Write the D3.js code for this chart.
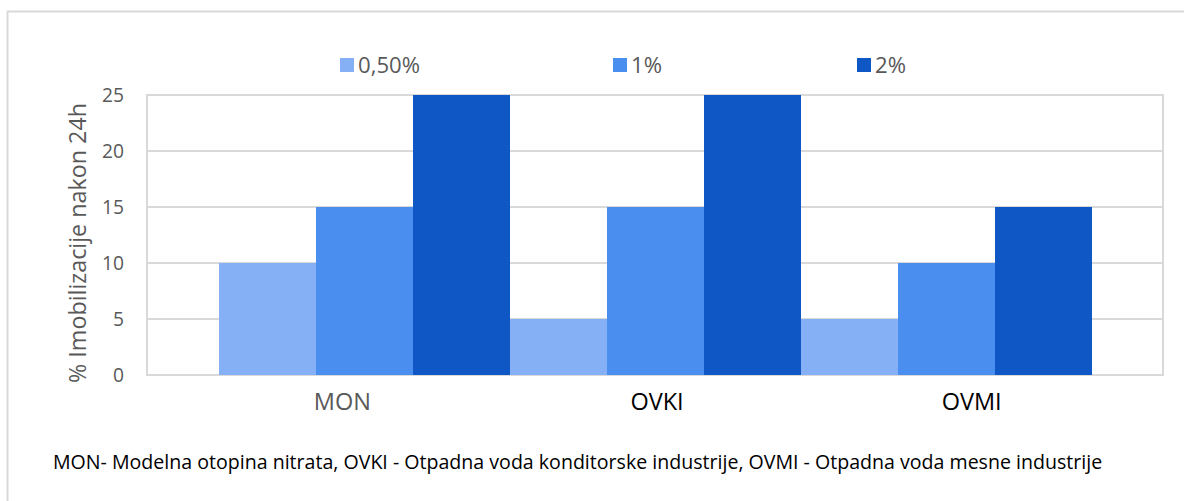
<!DOCTYPE html>
<html>
<head>
<meta charset="utf-8">
<script src="https://cdn.jsdelivr.net/npm/d3@7"></script>
<style>
  html, body { margin: 0; padding: 0; background: #fff; }
  svg { display: block; font-family: "Open Sans", sans-serif; }
</style>
</head>
<body>
<svg id="chart" width="1184" height="501"></svg>
<script>
// Samples and concentrations
const categories = ["MON", "OVKI", "OVMI"];
const seriesNames = ["0,50%", "1%", "2%"];
const values050 = [10, 5, 5];
const values1 = [15, 15, 10];
const values2 = [25, 25, 15];
const yTicks = [0, 5, 10, 15, 20, 25];
const footnote = "MON- Modelna otopina nitrata, OVKI - Otpadna voda konditorske industrije, OVMI - Otpadna voda mesne industrije";
const yTitle = "% Imobilizacije nakon 24h";

const seriesValues = [values050, values1, values2];
const colors = ["#86b0f6", "#4a8ef0", "#0f57c4"];
const labelColors = ["#595959", "#000000", "#000000"];

const svg = d3.select("#chart");

// Font size at which a reference string spans the given width
function sizeFor(text, width, base = 20) {
  const t = svg.append("text").style("font-size", base + "px").text(text);
  const w = t.node().getComputedTextLength();
  t.remove();
  return (base * width / w).toFixed(2) + "px";
}

const tickSize = sizeFor("25", 22);
const catSize = sizeFor("OVMI", 60);
const legendSize = sizeFor("0,50%", 62);
const titleSize = sizeFor(yTitle, 280);
const noteSize = sizeFor(footnote, 1050);

// Outer frame (top and left edges visible)
svg.append("path")
  .attr("d", "M7.5,501 V11.5 H1184")
  .attr("fill", "none").attr("stroke", "#d9d9d9").attr("stroke-width", 2);

const plot = { left: 147, right: 1163, top: 95, bottom: 375 };

const y = d3.scaleLinear().domain([0, 25]).range([plot.bottom, plot.top]);

// Bar groups sit inside the plot with wide outer margins
const xBars = d3.scaleBand().domain(categories).range([219, 1092]).paddingInner(0).paddingOuter(0);
const xSeries = d3.scaleBand().domain(seriesNames).range([0, xBars.bandwidth()]).padding(0);
// Category labels
const xLabels = d3.scaleBand().domain(categories).range([185, 1129]);

// Plot border
svg.append("rect")
  .attr("x", plot.left).attr("y", plot.top)
  .attr("width", plot.right - plot.left).attr("height", plot.bottom - plot.top)
  .attr("fill", "none").attr("stroke", "#d9d9d9").attr("stroke-width", 2);

// Gridlines
svg.append("g").selectAll("line").data(yTicks.filter(t => t > 0 && t < 25)).join("line")
  .attr("x1", plot.left).attr("x2", plot.right)
  .attr("y1", d => y(d)).attr("y2", d => y(d))
  .attr("stroke", "#d9d9d9").attr("stroke-width", 2);

// Y axis tick labels
const yAxis = d3.axisLeft(y).tickValues(yTicks).tickSize(0).tickPadding(23);
const gy = svg.append("g").attr("transform", `translate(${plot.left},0)`).call(yAxis);
gy.select(".domain").remove();
gy.selectAll("text").attr("fill", "#595959")
  .style("font-size", tickSize).style("font-family", "'Open Sans', sans-serif");

// Bars
const rows = [];
categories.forEach((c, i) => seriesNames.forEach((s, j) => rows.push({ c, s, j, v: seriesValues[j][i] })));
svg.append("g").selectAll("rect").data(rows).join("rect")
  .attr("x", d => xBars(d.c) + xSeries(d.s))
  .attr("width", xSeries.bandwidth())
  .attr("y", d => y(d.v))
  .attr("height", d => y(0) - y(d.v))
  .attr("fill", d => colors[d.j]);

// Category labels
svg.append("g").selectAll("text").data(categories).join("text")
  .attr("x", d => xLabels(d) + xLabels.bandwidth() / 2)
  .attr("y", 410)
  .attr("text-anchor", "middle")
  .attr("fill", (d, i) => labelColors[i])
  .style("font-size", catSize)
  .text(d => d);

// Y axis title
svg.append("text")
  .attr("transform", "translate(86,243) rotate(-90)")
  .attr("text-anchor", "middle")
  .attr("fill", "#595959")
  .style("font-size", titleSize)
  .text(yTitle);

// Legend
const legendX = [340, 613, 857];
const lg = svg.append("g").selectAll("g").data(seriesNames).join("g")
  .attr("transform", (d, i) => `translate(${legendX[i]},58)`);
lg.append("rect").attr("width", 14).attr("height", 14).attr("fill", (d, i) => colors[i]);
lg.append("text").attr("x", 18).attr("y", 15).attr("fill", "#595959")
  .style("font-size", legendSize).text(d => d);

// Footnote
svg.append("text")
  .attr("x", 53).attr("y", 469)
  .attr("fill", "#000")
  .style("font-size", noteSize)
  .text(footnote);
</script>
</body>
</html>
